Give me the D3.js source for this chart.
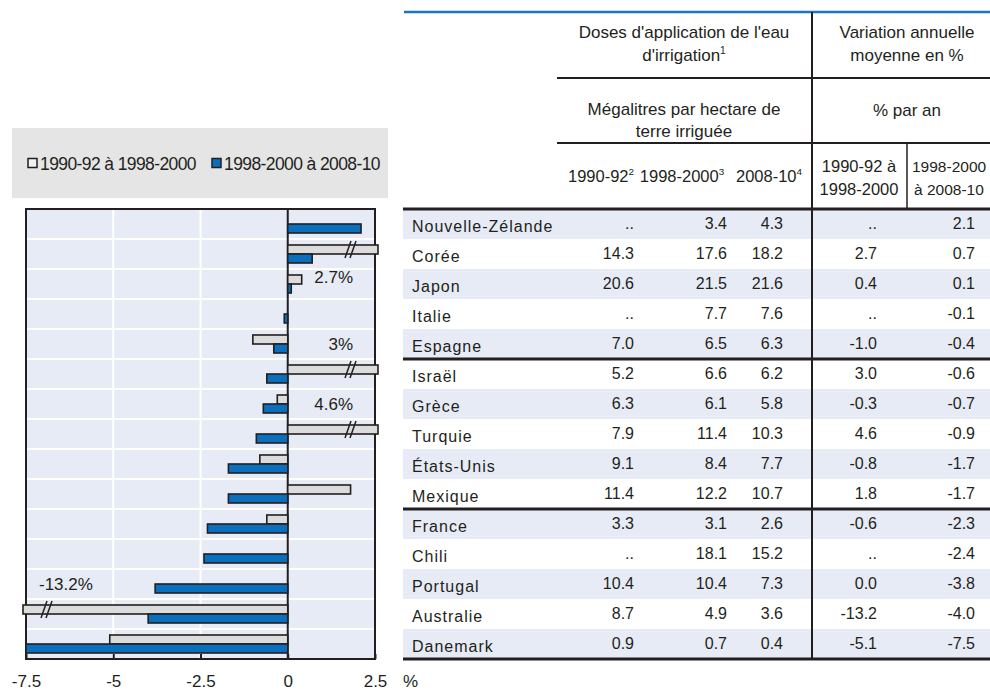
<!DOCTYPE html>
<html><head><meta charset="utf-8">
<script src="https://cdn.jsdelivr.net/npm/d3@7"></script>
<style>body{margin:0;background:#fff}svg{display:block;font-family:"Liberation Sans",Arial,sans-serif}</style>
</head><body><svg id="c" width="990" height="691"></svg>
<script>
// ---------- data ----------
const countries = ["Nouvelle-Zélande","Corée","Japon","Italie","Espagne","Israël","Grèce","Turquie","États-Unis","Mexique","France","Chili","Portugal","Australie","Danemark"];
const dose1990 = [null,14.3,20.6,null,7.0,5.2,6.3,7.9,9.1,11.4,3.3,null,10.4,8.7,0.9];
const dose1998 = [3.4,17.6,21.5,7.7,6.5,6.6,6.1,11.4,8.4,12.2,3.1,18.1,10.4,4.9,0.7];
const dose2008 = [4.3,18.2,21.6,7.6,6.3,6.2,5.8,10.3,7.7,10.7,2.6,15.2,7.3,3.6,0.4];
const change1990_1998 = [null,2.7,0.4,null,-1.0,3.0,-0.3,4.6,-0.8,1.8,-0.6,null,0.0,-13.2,-5.1];
const change1998_2008 = [2.1,0.7,0.1,-0.1,-0.4,-0.6,-0.7,-0.9,-1.7,-1.7,-2.3,-2.4,-3.8,-4.0,-7.5];
const xTicks = [-7.5,-5,-2.5,0,2.5];
const seriesNames = ["1990-92 à 1998-2000","1998-2000 à 2008-10"];
const labelsBelow = ["Corée"];

// ---------- style ----------
const C = {text:"#231f20", dark:"#231f20", blue:"#0a70be", gray:"#dcdcdc",
  plotBg:"#e6ebf5", stripe:"#e6ebf5", legendBg:"#e5e5e5", topLine:"#1b75c4"};
const FONT = '"Liberation Sans", Arial, sans-serif';
const svg = d3.select("#c");

// ---------- scales ----------
const x = d3.scaleLinear().domain([xTicks[0], xTicks[xTicks.length-1]]).range([26,375]);
const y = d3.scaleBand().domain(countries).range([209,659]);
const sub = d3.scaleBand().domain([0,1]).range([0,y.bandwidth()]).paddingOuter(2/3);
const series = [change1990_1998, change1998_2008];
const fills = [C.gray, C.blue];

// ---------- legend ----------
svg.append("rect").attr("x",12).attr("y",128).attr("width",376).attr("height",70).attr("fill",C.legendBg);
const legX = [28,212];
seriesNames.forEach((n,i)=>{
  svg.append("rect").attr("x",legX[i]).attr("y",158.5).attr("width",9).attr("height",9)
    .attr("fill",i===0?"#f2f2f2":fills[i]).attr("stroke",C.dark).attr("stroke-width",1.5);
  svg.append("text").attr("x",legX[i]+12).attr("y",169.5).attr("font-size",17.5)
    .attr("letter-spacing",-0.6).attr("fill",C.text).text(n);
});

// ---------- plot ----------
const [d0,d1] = x.domain();
const plot = svg.append("g");
plot.append("rect").attr("x",x(d0)).attr("y",y.range()[0]).attr("width",x(d1)-x(d0))
  .attr("height",y.range()[1]-y.range()[0]).attr("fill",C.plotBg);
plot.selectAll(".hg").data(countries.slice(1)).join("line")
  .attr("x1",x(d0)).attr("x2",x(d1)).attr("y1",d=>y(d)).attr("y2",d=>y(d))
  .attr("stroke","#fff").attr("stroke-width",2);
plot.selectAll(".vg").data(xTicks.filter(t=>t!==0 && t>d0 && t<d1)).join("line")
  .attr("x1",d=>x(d)).attr("x2",d=>x(d)).attr("y1",y.range()[0]).attr("y2",y.range()[1])
  .attr("stroke","#fff").attr("stroke-width",2);
plot.append("line").attr("x1",x(0)).attr("x2",x(0)).attr("y1",y.range()[0]).attr("y2",y.range()[1])
  .attr("stroke",C.dark).attr("stroke-width",2);
plot.append("rect").attr("x",x(d0)).attr("y",y.range()[0]).attr("width",x(d1)-x(d0))
  .attr("height",y.range()[1]-y.range()[0]).attr("fill","none").attr("stroke",C.dark).attr("stroke-width",2);

const ax = svg.append("g").attr("transform",`translate(0,${y.range()[1]})`)
  .call(d3.axisBottom(x).tickValues(xTicks).tickSize(-5).tickPadding(16).tickFormat(d=>String(d)));
ax.select(".domain").remove();
ax.selectAll(".tick line").attr("stroke",C.dark).attr("stroke-width",2);
ax.selectAll(".tick text").attr("font-size",17).attr("font-family",FONT).attr("fill",C.text);
svg.append("text").attr("x",403).attr("y",687).attr("font-size",17).attr("fill",C.text).text("%");

// bars
const bars = [];
countries.forEach((c,i)=>series.forEach((s,k)=>{ if(s[i]!==null) bars.push({c,k,v:s[i]}); }));
bars.forEach(b=>{
  const vc = Math.max(d0, Math.min(d1, b.v));
  b.broken = vc !== b.v;
  b.x1 = x(vc) + (b.broken ? (b.v>0 ? 3 : -3) : 0);
  b.y0 = y(b.c)+sub(b.k);
});
plot.selectAll(".bar").data(bars).join("rect")
  .attr("x",d=>Math.min(x(0),d.x1)).attr("width",d=>Math.abs(d.x1-x(0)))
  .attr("y",d=>d.y0).attr("height",sub.bandwidth())
  .attr("fill",d=>fills[d.k]).attr("stroke",C.dark).attr("stroke-width",1.6);

// break marks and labels
const broken = bars.filter(b=>b.broken);
broken.forEach(b=>{
  const bx = b.v>0 ? x(d1)-30 : x(d0)+15;
  const top = b.y0, bot = b.y0+sub.bandwidth();
  [0,5].forEach(o=>{
    plot.append("line").attr("x1",bx+o).attr("y1",bot+4).attr("x2",bx+o+6).attr("y2",top-4)
      .attr("stroke",C.dark).attr("stroke-width",1.5);
  });
  const below = labelsBelow.includes(b.c);
  plot.append("text")
    .attr("x", b.v>0 ? x(d1)-22 : x(d0)+13)
    .attr("text-anchor", b.v>0 ? "end" : "start")
    .attr("y", below ? bot+29 : top-15)
    .attr("font-size",17).attr("fill",C.text)
    .text(`${+b.v.toFixed(1)}%`);
});

// ---------- table ----------
const T = {left:403, right:990, div:812, div2:907, hdrLeft:557};
const tab = svg.append("g").attr("fill",C.text);
tab.selectAll(".stripe").data(countries.filter((c,i)=>i%2===0)).join("rect")
  .attr("x",T.left).attr("width",T.right-T.left).attr("y",d=>y(d)).attr("height",y.bandwidth())
  .attr("fill",C.stripe);

// lines
svg.append("line").attr("x1",404).attr("x2",T.right).attr("y1",12).attr("y2",12)
  .attr("stroke",C.topLine).attr("stroke-width",2.5);
[78,143].forEach(yy=>svg.append("line").attr("x1",T.hdrLeft).attr("x2",T.right).attr("y1",yy).attr("y2",yy)
  .attr("stroke",C.dark).attr("stroke-width",2));
const groupLines = [y(countries[0]), y(countries[5]), y(countries[10]), y.range()[1]];
groupLines.forEach(yy=>svg.append("line").attr("x1",T.left).attr("x2",T.right).attr("y1",yy).attr("y2",yy)
  .attr("stroke",C.dark).attr("stroke-width",3));
svg.append("line").attr("x1",T.div).attr("x2",T.div).attr("y1",12).attr("y2",y.range()[1])
  .attr("stroke",C.dark).attr("stroke-width",2);
svg.append("line").attr("x1",T.div2).attr("x2",T.div2).attr("y1",143).attr("y2",y.range()[0])
  .attr("stroke",C.dark).attr("stroke-width",1.5);

// header text
function htext(xx,yy,str,sup,size,anchor){
  const t = svg.append("text").attr("x",xx).attr("y",yy).attr("font-size",size)
    .attr("text-anchor",anchor||"middle").attr("fill",C.text);
  t.append("tspan").text(str);
  if(sup) t.append("tspan").attr("font-size",size*0.6).attr("dy",-size*0.4).text(sup);
  return t;
}
htext(684,38,"Doses d'application de l'eau",null,17);
htext(684,61,"d'irrigation","1",17);
htext(907,38,"Variation annuelle",null,17);
htext(907,61,"moyenne en %",null,17);
htext(684,115,"Mégalitres par hectare de",null,17);
htext(684,137,"terre irriguée",null,17);
htext(907,116,"% par an",null,17);
htext(601,182,"1990-92","2",16.5);
htext(682,182,"1998-2000","3",16.5);
htext(769,182,"2008-10","4",16.5);
htext(859,172,"1990-92 à",null,16.5);
htext(859,195,"1998-2000",null,16.5);
htext(912,172,"1998-2000",null,15.5,"start");
htext(914,195,"à 2008-10",null,15.5,"start");

// body text
const fmt = v => v===null ? ".." : v.toFixed(1);
const cols = [{d:dose1990,x:634},{d:dose1998,x:727},{d:dose2008,x:783},{d:change1990_1998,x:877},{d:change1998_2008,x:975}];
tab.selectAll(".name").data(countries).join("text")
  .attr("x",412).attr("y",d=>y(d)+23).attr("font-size",16).attr("letter-spacing",1).text(d=>d);
cols.forEach(col=>{
  tab.selectAll(null).data(countries).join("text")
    .attr("x",col.x).attr("y",d=>y(d)+20).attr("text-anchor","end").attr("font-size",16)
    .text((d,i)=>fmt(col.d[i]));
});
</script></body></html>
